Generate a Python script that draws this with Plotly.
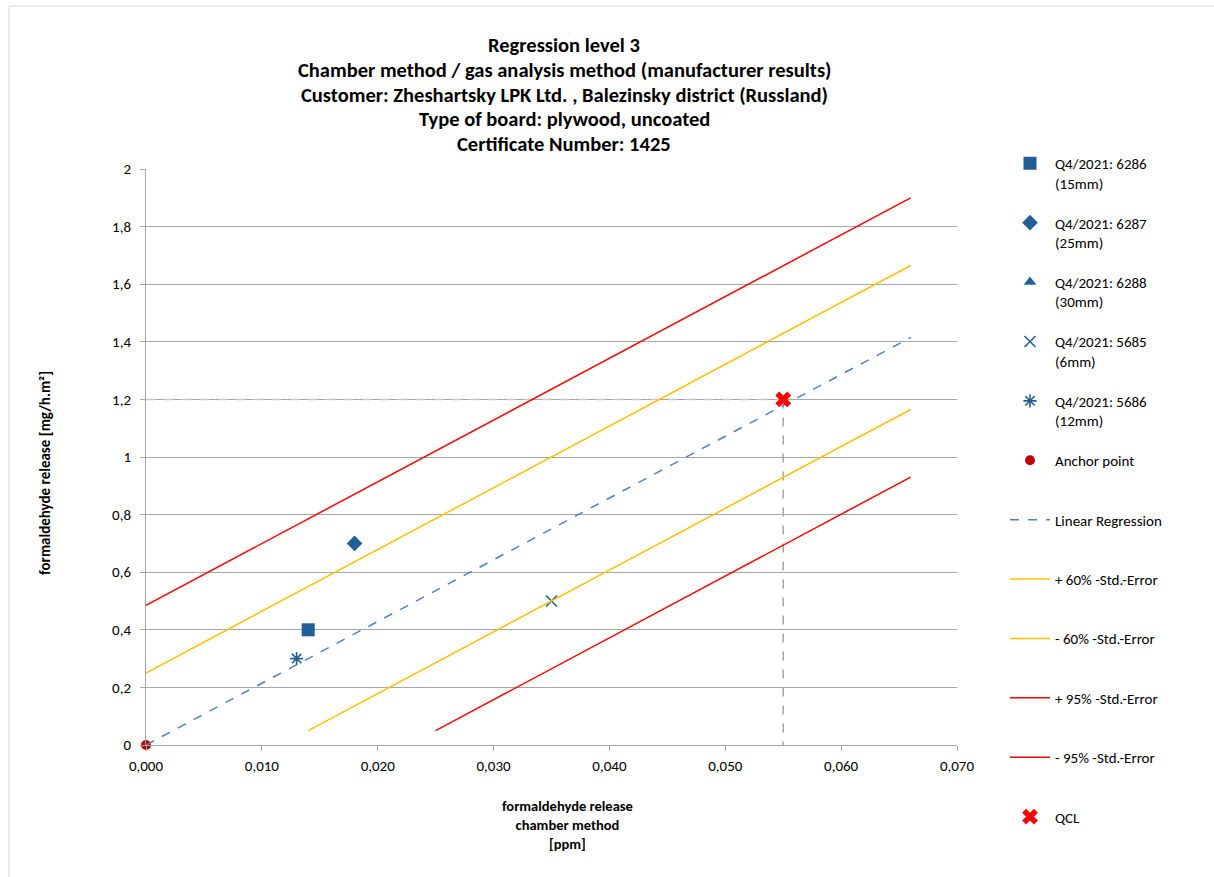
import plotly.graph_objects as go

# ---- data ----
x_6286, y_6286 = [0.014], [0.4]
x_6287, y_6287 = [0.018], [0.7]
x_6288, y_6288 = [None], [None]
x_5685, y_5685 = [0.035], [0.5]
x_5686, y_5686 = [0.013], [0.3]
x_anchor, y_anchor = [0.0], [0.0]
x_qcl, y_qcl = [0.055], [1.2]

reg_x = [0.0, 0.066]
reg_y = [0.0, 1.415]
p60_x = [0.0, 0.066]
p60_y = [0.25, 1.665]
m60_x = [0.014, 0.066]
m60_y = [0.05, 1.165]
p95_x = [0.0, 0.066]
p95_y = [0.485, 1.9]
m95_x = [0.025, 0.066]
m95_y = [0.05, 0.93]

x_ticks = [0.0, 0.01, 0.02, 0.03, 0.04, 0.05, 0.06, 0.07]
x_ticktext = ["0,000", "0,010", "0,020", "0,030", "0,040", "0,050", "0,060", "0,070"]
y_ticks = [0, 0.2, 0.4, 0.6, 0.8, 1.0, 1.2, 1.4, 1.6, 1.8, 2.0]
y_ticktext = ["0", "0,2", "0,4", "0,6", "0,8", "1", "1,2", "1,4", "1,6", "1,8", "2"]

title_lines = [
    "Regression level 3",
    "Chamber method / gas analysis method (manufacturer results)",
    "Customer: Zheshartsky LPK Ltd. , Balezinsky district (Russland)",
    "Type of board: plywood, uncoated",
    "Certificate Number: 1425",
]

FONT = "Carlito, Calibri, Lato, sans-serif"
W, H = 1214, 877
L, R, T, B = 146, 957, 169, 745

BLUE = "#215f96"

fig = go.Figure()

def add_marker(x, y, name, symbol, size, color, lw=0, grp=None):
    fig.add_trace(go.Scatter(
        x=x, y=y, mode="markers", name=name, legendgroup=grp or name,
        cliponaxis=False,
        marker=dict(symbol=symbol, size=size, color=color,
                    line=dict(width=lw, color=color)),
    ))

def add_line(x, y, name, color, dash="solid", width=1.5):
    fig.add_trace(go.Scatter(
        x=x, y=y, mode="lines", name=name, legendgroup=name,
        line=dict(color=color, dash=dash, width=width),
    ))

# helper reference lines from QCL (not in legend)
fig.add_trace(go.Scatter(x=[x_qcl[0], x_qcl[0]], y=[y_qcl[0], 0], mode="lines",
                         line=dict(color="#a6a6a6", dash="dash", width=1.5),
                         showlegend=False, hoverinfo="skip"))
fig.add_trace(go.Scatter(x=[0, x_qcl[0]], y=[y_qcl[0], y_qcl[0]], mode="lines",
                         line=dict(color="#c8c8c8", dash="dash", width=1.5),
                         showlegend=False, hoverinfo="skip"))

add_marker(x_6286, y_6286, "Q4/2021: 6286<br>(15mm)", "square", 13, BLUE)
add_marker(x_6287, y_6287, "Q4/2021: 6287<br>(25mm)", "diamond", 12, BLUE)
add_marker(x_6288, y_6288, "Q4/2021: 6288<br>(30mm)", "triangle-up", 11, BLUE)
add_marker(x_5685, y_5685, "Q4/2021: 5685<br>(6mm)", "x-thin", 11, BLUE, lw=1.6)
add_marker(x_5686, y_5686, "Q4/2021: 5686<br>(12mm)", "asterisk", 11, BLUE, lw=1.6)
add_marker(x_anchor, y_anchor, "Anchor point<br> ", "circle", 10, "#c00000")
add_line(reg_x, reg_y, "Linear Regression<br> ", "#4f81bd", dash="dash", width=1.5)
add_line(p60_x, p60_y, "+ 60% -Std.-Error<br> ", "#ffc000")
add_line(m60_x, m60_y, "- 60% -Std.-Error<br> ", "#ffc000")
add_line(p95_x, p95_y, "+ 95% -Std.-Error<br> ", "#ff0000")
add_line(m95_x, m95_y, "- 95% -Std.-Error<br> ", "#ff0000")
add_marker(x_qcl, y_qcl, "QCL<br> ", "x", 14, "#ff0000")

def px(xp):
    return (xp - L) / (R - L)

def py(yp):
    return (B - yp) / (B - T)

annotations = []
for i, t in enumerate(title_lines):
    annotations.append(dict(
        text="<b>%s</b>" % t, x=px(564), y=py(45 + i * 24.8), xref="paper", yref="paper",
        showarrow=False, xanchor="center", yanchor="middle",
        font=dict(family=FONT, size=20.5, color="#000000")))

annotations.append(dict(
    text="<b>formaldehyde release<br>chamber method<br>[ppm]</b>",
    x=px(567), y=py(825), xref="paper", yref="paper", showarrow=False,
    xanchor="center", yanchor="middle", align="center",
    font=dict(family=FONT, size=14.5, color="#000000")))
annotations.append(dict(
    text="<b>formaldehyde release [mg/h.m²]</b>",
    x=px(45), y=py(473), xref="paper", yref="paper", showarrow=False,
    xanchor="center", yanchor="middle", textangle=-90,
    font=dict(family=FONT, size=15, color="#000000")))

fig.update_layout(
    width=W, height=H, autosize=False,
    margin=dict(l=L, r=W - R, t=T, b=H - B, pad=0, autoexpand=False),
    paper_bgcolor="white", plot_bgcolor="white",
    font=dict(family=FONT, size=15, color="#000000"),
    showlegend=True,
    legend=dict(x=px(1005), y=1 - 147 / H, xanchor="left", yanchor="top",
                yref="container", maxheight=1.0,
                tracegroupgap=17.4, valign="top",
                font=dict(family=FONT, size=15, color="#000000"),
                itemwidth=40, bgcolor="rgba(0,0,0,0)"),
    annotations=annotations,
    shapes=[dict(type="rect", xref="paper", yref="paper",
                 x0=px(9), x1=px(1300), y0=py(6), y1=py(1000),
                 line=dict(color="#d9d9d9", width=1))],
)

fig.update_xaxes(range=[0, 0.07], tickvals=x_ticks, ticktext=x_ticktext,
                 showgrid=False, zeroline=False, showline=True,
                 linecolor="#a6a6a6", linewidth=1, ticks="outside",
                 ticklen=5, tickcolor="#a6a6a6", ticklabelstandoff=2,
                 tickfont=dict(family=FONT, size=15, color="#000000"))
fig.update_yaxes(range=[0, 2], tickvals=y_ticks, ticktext=y_ticktext,
                 showgrid=True, gridcolor="#a6a6a6", gridwidth=1,
                 zeroline=False, showline=True, linecolor="#a6a6a6",
                 linewidth=1, ticks="outside", ticklen=5, tickcolor="#a6a6a6",
                 ticklabelstandoff=6,
                 tickfont=dict(family=FONT, size=15, color="#000000"))

fig.write_html("out.html", config={"displayModeBar": False},
               post_script="document.body.style.margin='0';")
